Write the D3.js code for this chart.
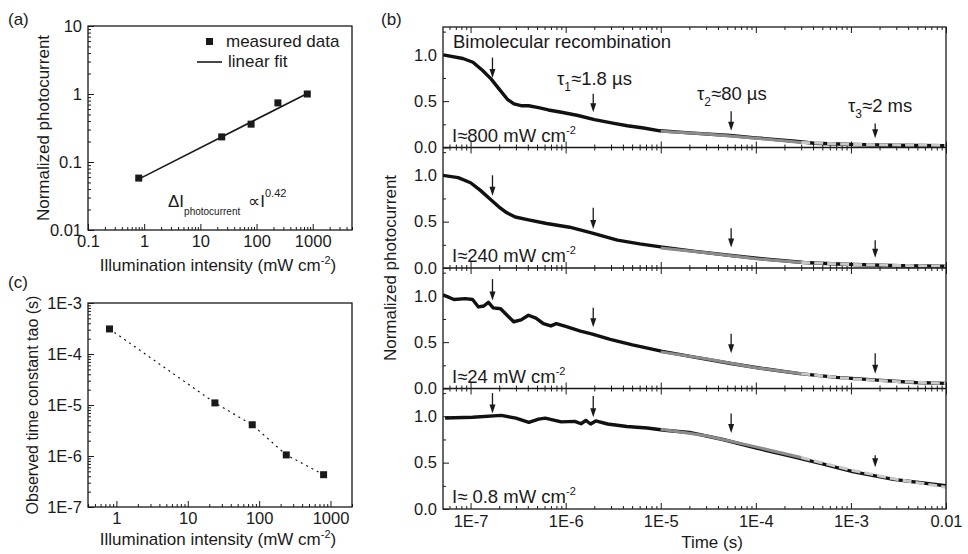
<!DOCTYPE html>
<html>
<head>
<meta charset="utf-8">
<script src="https://cdn.jsdelivr.net/npm/d3@7"></script>
<style>
  body { margin: 0; background: #fff; }
  svg { font-family: "Liberation Sans", Arial, Helvetica, sans-serif; }
</style>
</head>
<body>
<div id="chart"></div>
<script>
// ---- panel (a): photocurrent vs illumination ----
const intensity = [0.8, 24, 80, 240, 800];
const photocurrent = [0.058, 0.234, 0.36, 0.74, 1.0];
const fitIntensity = [0.8, 800];
const fitPhotocurrent = [0.056, 1.02];

// ---- panel (c): observed time constant ----
const tauObserved = [3.1e-4, 1.1e-5, 4.1e-6, 1.05e-6, 4.3e-7];

// ---- tick labels ----
const ticksAx = [0.1, 1, 10, 100, 1000];
const labelsAx = ['0.1', '1', '10', '100', '1000'];
const ticksAy = [0.01, 0.1, 1, 10];
const labelsAy = ['0.01', '0.1', '1', '10'];
const ticksCx = [1, 10, 100, 1000];
const labelsCx = ['1', '10', '100', '1000'];
const ticksCy = [1e-7, 1e-6, 1e-5, 1e-4, 1e-3];
const labelsCy = ['1E-7', '1E-6', '1E-5', '1E-4', '1E-3'];
const ticksBx = [1e-7, 1e-6, 1e-5, 1e-4, 1e-3, 1e-2];
const labelsBx = ['1E-7', '1E-6', '1E-5', '1E-4', '1E-3', '0.01'];
const ticksBy = [0, 0.5, 1.0];
const labelsBy = ['0.0', '0.5', '1.0'];
const minorBy = [0.25, 0.75, 1.25];

// ---- panel (b): transients, one pair of arrays per intensity ----
const t800 = [5.16e-8, 8.3e-8, 1.06e-7, 1.34e-7, 1.64e-7, 2.0e-7, 2.44e-7, 2.86e-7, 3.48e-7, 4.08e-7,
  5.19e-7, 6.59e-7, 9.04e-7, 1.35e-6, 2.01e-6, 3.23e-6, 4.45e-6, 6.6e-6, 9.8e-6, 2.0e-5,
  5.4e-5, 9.9e-5, 2.6e-4, 4.1e-4, 1.06e-3, 2.8e-3, 1e-2];
const v800 = [1.0, 0.96, 0.92, 0.83, 0.74, 0.63, 0.52, 0.47, 0.45, 0.45,
  0.43, 0.405, 0.38, 0.345, 0.30, 0.26, 0.235, 0.21, 0.18, 0.158,
  0.13, 0.104, 0.068, 0.046, 0.032, 0.025, 0.02];

const t240 = [5.1e-8, 7.4e-8, 1.0e-7, 1.26e-7, 1.58e-7, 1.98e-7, 2.37e-7, 2.95e-7, 4.07e-7, 6.3e-7,
  1.1e-6, 1.87e-6, 3.5e-6, 6.0e-6, 1.04e-5, 2.3e-5, 5.5e-5, 1.3e-4, 3.2e-4, 8.5e-4, 3.3e-3, 1e-2];
const v240 = [1.0, 0.975, 0.92, 0.84, 0.75, 0.66, 0.60, 0.55, 0.52, 0.48,
  0.44, 0.38, 0.30, 0.26, 0.225, 0.18, 0.135, 0.095, 0.06, 0.04, 0.025, 0.02];

const t24 = [5.14e-8, 6.7e-8, 8.8e-8, 1.05e-7, 1.21e-7, 1.38e-7, 1.54e-7, 1.73e-7, 2.07e-7, 2.48e-7,
  2.84e-7, 3.4e-7, 4.06e-7, 4.87e-7, 5.83e-7, 6.98e-7, 7.98e-7, 1e-6, 1.43e-6, 1.87e-6,
  2.94e-6, 5.05e-6, 1.04e-5, 2.33e-5, 5.47e-5, 1.29e-4, 2.89e-4, 7.1e-4, 1.9e-3, 4.7e-3, 1e-2];
const v24 = [1.01, 0.96, 0.97, 0.96, 0.88, 0.89, 0.93, 0.87, 0.86, 0.78,
  0.72, 0.74, 0.79, 0.76, 0.70, 0.675, 0.70, 0.67, 0.62, 0.59,
  0.53, 0.47, 0.40, 0.335, 0.27, 0.21, 0.16, 0.12, 0.09, 0.065, 0.055];

const t08 = [5.4e-8, 1.05e-7, 2.1e-7, 3.0e-7, 4.1e-7, 5.2e-7, 6.1e-7, 7.1e-7, 9.0e-7, 1.25e-6,
  1.45e-6, 1.63e-6, 1.83e-6, 2.07e-6, 2.76e-6, 4.4e-6, 7.2e-6, 1.1e-5, 2.0e-5, 4.5e-5,
  9.9e-5, 2.2e-4, 4.9e-4, 1.07e-3, 2.8e-3, 1e-2];
const v08 = [0.982, 0.99, 1.01, 0.98, 0.935, 0.97, 0.98, 0.965, 0.94, 0.945,
  0.92, 0.955, 0.917, 0.95, 0.917, 0.89, 0.874, 0.85, 0.826, 0.75,
  0.66, 0.576, 0.49, 0.40, 0.32, 0.25];

// fits: dark grey (tau2 region) and light grey dashed (tau3 region)
const fitDarkT = [1e-5, 3e-5, 1e-4, 3e-4];
const fitLightT = [3e-4, 1e-3, 3e-3, 1e-2];
const fitDark800 = [0.175, 0.145, 0.10, 0.055];
const fitLight800 = [0.055, 0.034, 0.026, 0.022];
const fitDark240 = [0.215, 0.165, 0.10, 0.06];
const fitLight240 = [0.06, 0.038, 0.027, 0.02];
const fitDark24 = [0.395, 0.32, 0.225, 0.16];
const fitLight24 = [0.16, 0.105, 0.075, 0.055];
const fitDark08 = [0.86, 0.79, 0.67, 0.555];
const fitLight08 = [0.555, 0.42, 0.32, 0.235];

// arrows: time position, and top / tip values in each sub-panel
const arrowT = [1.7e-7, 1.95e-6, 5.5e-5, 1.8e-3];
const arrowTop800 = [0.97, 0.58, 0.39, 0.26];
const arrowTip800 = [0.75, 0.38, 0.18, 0.10];
const arrowTop240 = [1.0, 0.65, 0.43, 0.30];
const arrowTip240 = [0.78, 0.42, 0.22, 0.11];
const arrowTop24 = [1.18, 0.87, 0.59, 0.38];
const arrowTip24 = [0.95, 0.66, 0.38, 0.16];
const arrowTop08 = [1.25, 1.22, 1.03, 0.58];
const arrowTip08 = [1.03, 0.99, 0.82, 0.45];

const intensityLabels = ['I\u2248800 mW cm', 'I\u2248240 mW cm', 'I\u224824 mW cm', 'I\u2248 0.8 mW cm'];

const panelsB = [
  { t: t800, v: v800, dark: fitDark800, light: fitLight800, top: arrowTop800, tip: arrowTip800 },
  { t: t240, v: v240, dark: fitDark240, light: fitLight240, top: arrowTop240, tip: arrowTip240 },
  { t: t24, v: v24, dark: fitDark24, light: fitLight24, top: arrowTop24, tip: arrowTip24 },
  { t: t08, v: v08, dark: fitDark08, light: fitLight08, top: arrowTop08, tip: arrowTip08 }
];

const INK = '#1a1a1a';
const TICK_FONT = '16.5px';
const TITLE_FONT = '17px';
const NOTE_FONT = '18.5px';

const svg = d3.select('#chart').append('svg')
  .attr('width', 968).attr('height', 554);
const defs = svg.append('defs');

// draw one axis with inward ticks: majors labelled, minors bare
function inwardAxis(g, axisFn, scale, majors, labels, minors, pad, showLabels) {
  const major = axisFn(scale).tickValues(majors).tickSize(-6).tickPadding(pad)
    .tickFormat((d, i) => showLabels ? labels[i] : '');
  const minor = axisFn(scale).tickValues(minors).tickSize(-3).tickFormat('');
  const gm = g.append('g').call(minor);
  const gM = g.append('g').call(major);
  [gm, gM].forEach(a => {
    a.select('.domain').remove();
    a.selectAll('line').attr('stroke', INK).attr('stroke-width', 1);
    a.selectAll('text').attr('fill', INK).style('font-size', TICK_FONT)
      .style('font-family', '"Liberation Sans", Arial, sans-serif');
  });
  return gM;
}

function frame(x0, y0, x1, y1) {
  svg.append('rect')
    .attr('x', x0).attr('y', y0).attr('width', x1 - x0).attr('height', y1 - y0)
    .attr('fill', 'none').attr('stroke', INK).attr('stroke-width', 1.3);
}

function minorLog(scale, majors) {
  return scale.ticks().filter(d => !majors.some(m => Math.abs(m - d) / m < 1e-6));
}

// superscripted unit text, e.g. "(mW cm-2)"
function unitTitle(sel, main) {
  sel.append('tspan').text(main);
  sel.append('tspan').attr('dy', -7).style('font-size', '11px').text('-2');
  sel.append('tspan').attr('dy', 7).text(')');
}

// ================= panel (a) =================
const A = { left: 88, right: 352, top: 26, bottom: 230 };
const xA = d3.scaleLog().domain([0.1, 5000]).range([A.left, A.right]);
const yA = d3.scaleLog().domain([0.01, 10]).range([A.bottom, A.top]);
const gA = svg.append('g');

inwardAxis(gA.append('g').attr('transform', `translate(0,${A.bottom})`),
  d3.axisBottom, xA, ticksAx, labelsAx, minorLog(xA, ticksAx), 5, true);
inwardAxis(gA.append('g').attr('transform', `translate(${A.left},0)`),
  d3.axisLeft, yA, ticksAy, labelsAy, minorLog(yA, ticksAy), 6, true);
frame(A.left, A.top, A.right, A.bottom);

gA.append('path')
  .datum(d3.zip(fitIntensity, fitPhotocurrent))
  .attr('fill', 'none').attr('stroke', INK).attr('stroke-width', 1.6)
  .attr('d', d3.line().x(d => xA(d[0])).y(d => yA(d[1])));

gA.selectAll('rect.pt')
  .data(d3.zip(intensity, photocurrent))
  .join('rect').attr('class', 'pt')
  .attr('x', d => xA(d[0]) - 3.5).attr('y', d => yA(d[1]) - 3.5)
  .attr('width', 7).attr('height', 7).attr('fill', INK);

// legend
gA.append('rect').attr('x', 206).attr('y', 38).attr('width', 7).attr('height', 7).attr('fill', INK);
gA.append('text').attr('x', 226).attr('y', 47).style('font-size', TITLE_FONT).attr('fill', INK).text('measured data');
gA.append('line').attr('x1', 197).attr('x2', 222).attr('y1', 62).attr('y2', 62)
  .attr('stroke', INK).attr('stroke-width', 1.6);
gA.append('text').attr('x', 228).attr('y', 67).style('font-size', TITLE_FONT).attr('fill', INK).text('linear fit');

// power law annotation
const ann = gA.append('text').attr('x', 168).attr('y', 207).attr('fill', INK).style('font-size', TITLE_FONT);
ann.append('tspan').text('\u0394I');
ann.append('tspan').attr('dy', 8).style('font-size', '10px').text('photocurrent');
ann.append('tspan').attr('dy', -8).attr('dx', 8).text('\u221DI');
ann.append('tspan').attr('dy', -10).style('font-size', '11px').text('0.42');

svg.append('text').attr('x', 8).attr('y', 25).style('font-size', TITLE_FONT).attr('fill', INK).text('(a)');
svg.append('text').attr('transform', `translate(49,${(A.top + A.bottom) / 2}) rotate(-90)`)
  .attr('text-anchor', 'middle').style('font-size', TITLE_FONT).attr('fill', INK)
  .text('Normalized photocurrent');
svg.append('text').attr('x', 218).attr('y', 271).attr('text-anchor', 'middle')
  .style('font-size', TITLE_FONT).attr('fill', INK)
  .call(unitTitle, 'Illumination intensity (mW cm');

// ================= panel (c) =================
const C = { left: 88, right: 352, top: 303, bottom: 507 };
const xC = d3.scaleLog().domain([0.4, 2000]).range([C.left, C.right]);
const yC = d3.scaleLog().domain([1e-7, 1e-3]).range([C.bottom, C.top]);
const gC = svg.append('g');

inwardAxis(gC.append('g').attr('transform', `translate(0,${C.bottom})`),
  d3.axisBottom, xC, ticksCx, labelsCx, minorLog(xC, ticksCx), 5, true);
inwardAxis(gC.append('g').attr('transform', `translate(${C.left},0)`),
  d3.axisLeft, yC, ticksCy, labelsCy, minorLog(yC, ticksCy), 6, true);
frame(C.left, C.top, C.right, C.bottom);

gC.append('path')
  .datum(d3.zip(intensity, tauObserved))
  .attr('fill', 'none').attr('stroke', INK).attr('stroke-width', 1.2)
  .attr('stroke-dasharray', '2,4')
  .attr('d', d3.line().x(d => xC(d[0])).y(d => yC(d[1])));

gC.selectAll('rect.pt')
  .data(d3.zip(intensity, tauObserved))
  .join('rect').attr('class', 'pt')
  .attr('x', d => xC(d[0]) - 3.5).attr('y', d => yC(d[1]) - 3.5)
  .attr('width', 7).attr('height', 7).attr('fill', INK);

svg.append('text').attr('x', 8).attr('y', 288).style('font-size', TITLE_FONT).attr('fill', INK).text('(c)');
svg.append('text').attr('transform', `translate(38,${(C.top + C.bottom) / 2}) rotate(-90)`)
  .attr('text-anchor', 'middle').style('font-size', '16px').attr('fill', INK)
  .text('Observed time constant tao (s)');
svg.append('text').attr('x', 218).attr('y', 545).attr('text-anchor', 'middle')
  .style('font-size', TITLE_FONT).attr('fill', INK)
  .call(unitTitle, 'Illumination intensity (mW cm');

// ================= panel (b) =================
const B = { left: 443, right: 946, top: 27, bottom: 509 };
const subH = (B.bottom - B.top) / 4;
const xB = d3.scaleLog().domain([5.13e-8, 1e-2]).range([B.left, B.right]);
const minorBx = minorLog(xB, ticksBx);

panelsB.forEach((p, i) => {
  const top = B.top + i * subH;
  const bot = top + subH;
  const yB = d3.scaleLinear().domain([0, 1.3]).range([bot, top]);
  const g = svg.append('g');
  const clipId = 'clip' + i;
  defs.append('clipPath').attr('id', clipId)
    .append('rect').attr('x', B.left).attr('y', top).attr('width', B.right - B.left).attr('height', subH);

  const last = i === panelsB.length - 1;
  inwardAxis(g.append('g').attr('transform', `translate(0,${bot})`),
    d3.axisBottom, xB, ticksBx, labelsBx, minorBx, 6, last);
  inwardAxis(g.append('g').attr('transform', `translate(0,${top})`),
    d3.axisTop, xB, ticksBx, labelsBx, minorBx, 6, false);
  inwardAxis(g.append('g').attr('transform', `translate(${B.left},0)`),
    d3.axisLeft, yB, ticksBy, labelsBy, minorBy, 6, true);

  const line = d3.line().x(d => xB(d[0])).y(d => yB(d[1]));
  const plot = g.append('g').attr('clip-path', `url(#${clipId})`);
  plot.append('path').datum(d3.zip(p.t, p.v))
    .attr('fill', 'none').attr('stroke', '#111').attr('stroke-width', 3.4)
    .attr('stroke-linejoin', 'round').attr('d', line);
  plot.append('path').datum(d3.zip(fitDarkT, p.dark))
    .attr('fill', 'none').attr('stroke', '#8c8c8c').attr('stroke-width', 3).attr('d', line);
  plot.append('path').datum(d3.zip(fitLightT, p.light))
    .attr('fill', 'none').attr('stroke', '#c8c8c8').attr('stroke-width', 3)
    .attr('stroke-dasharray', '9,4').attr('d', line);

  arrowT.forEach((t, k) => {
    g.append('line')
      .attr('x1', xB(t)).attr('x2', xB(t))
      .attr('y1', yB(p.top[k])).attr('y2', yB(p.tip[k]) - 8)
      .attr('stroke', INK).attr('stroke-width', 1.3);
    g.append('path')
      .attr('d', `M${xB(t) - 3},${yB(p.tip[k]) - 9} L${xB(t) + 3},${yB(p.tip[k]) - 9} L${xB(t)},${yB(p.tip[k])} Z`)
      .attr('fill', INK);
  });

  const lab = g.append('text').attr('x', 452).attr('y', bot - 6)
    .style('font-size', NOTE_FONT).attr('fill', INK);
  lab.append('tspan').text(intensityLabels[i]);
  lab.append('tspan').attr('dy', -8).style('font-size', '11px').text('-2');
});
frame(B.left, B.top, B.right, B.bottom);
for (let i = 1; i < 4; i++) {
  svg.append('line').attr('x1', B.left).attr('x2', B.right)
    .attr('y1', B.top + i * subH).attr('y2', B.top + i * subH)
    .attr('stroke', INK).attr('stroke-width', 1.3);
}

// annotations of panel (b)
svg.append('text').attr('x', 453).attr('y', 48).style('font-size', NOTE_FONT).attr('fill', INK)
  .text('Bimolecular recombination');

function tauLabel(x, y, n, rest) {
  const t = svg.append('text').attr('x', x).attr('y', y).style('font-size', NOTE_FONT).attr('fill', INK);
  t.append('tspan').text('\u03C4');
  t.append('tspan').attr('dy', 6).style('font-size', '12px').text(n);
  t.append('tspan').attr('dy', -6).text(rest);
}
tauLabel(557, 85, '1', '\u22481.8 \u00B5s');
tauLabel(697, 100, '2', '\u224880 \u00B5s');
tauLabel(848, 112, '3', '\u22482 ms');

svg.append('text').attr('x', 381).attr('y', 25).style('font-size', TITLE_FONT).attr('fill', INK).text('(b)');
svg.append('text').attr('transform', `translate(396,${(B.top + B.bottom) / 2}) rotate(-90)`)
  .attr('text-anchor', 'middle').style('font-size', TITLE_FONT).attr('fill', INK)
  .text('Normalized photocurrent');
svg.append('text').attr('x', 712).attr('y', 548).attr('text-anchor', 'middle')
  .style('font-size', TITLE_FONT).attr('fill', INK).text('Time (s)');
</script>
</body>
</html>
